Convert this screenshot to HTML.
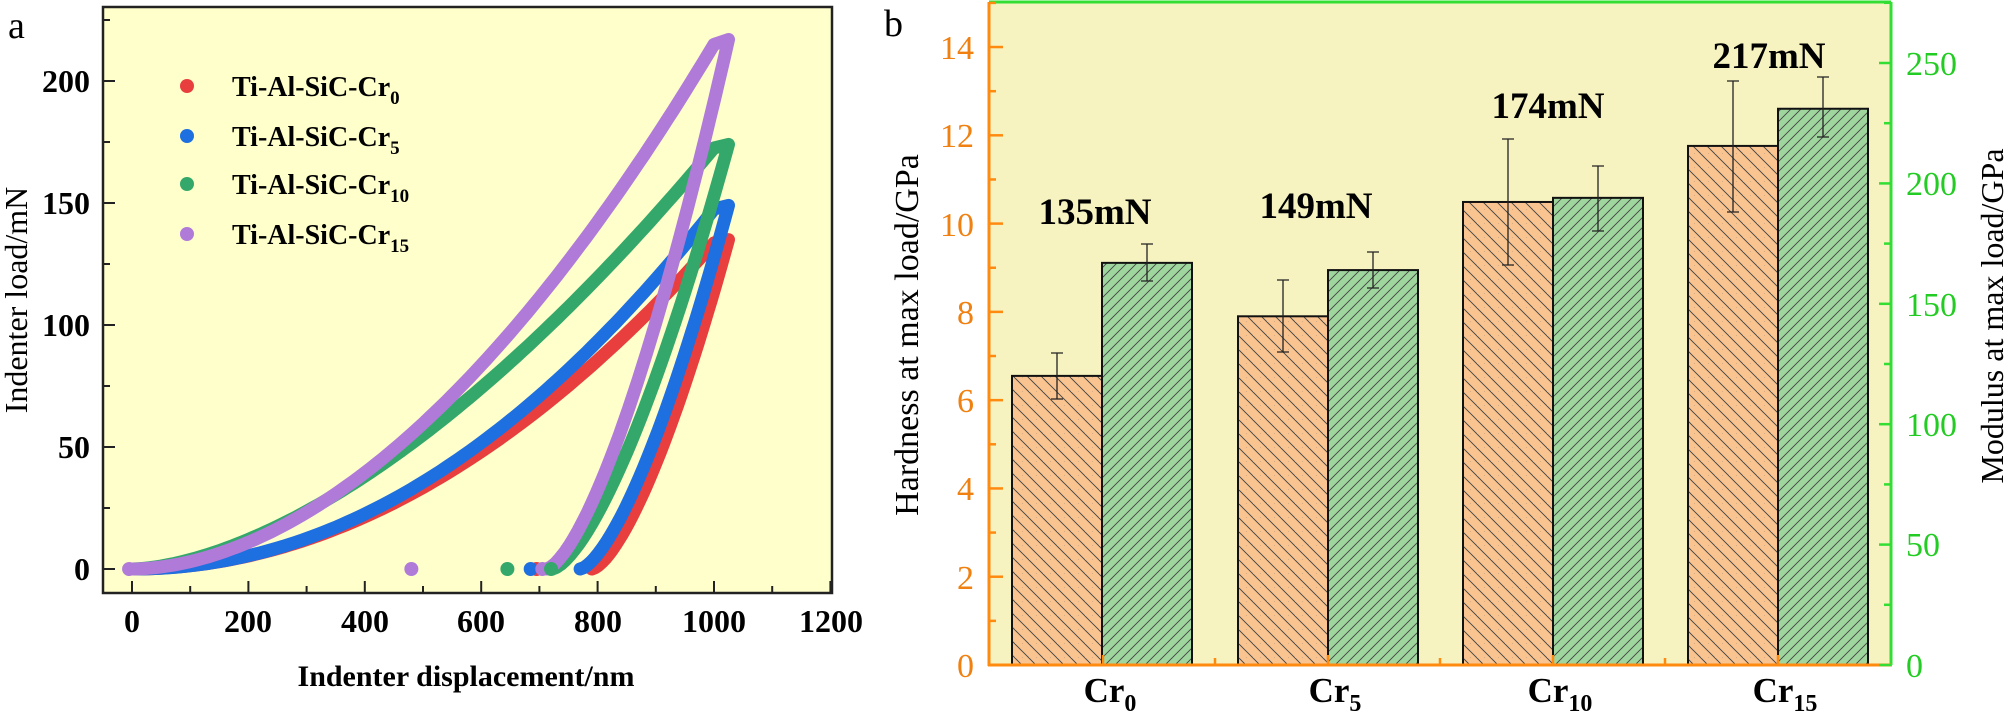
<!DOCTYPE html>
<html><head><meta charset="utf-8"><style>
html,body{margin:0;padding:0;background:#fff;}
svg{display:block;}
svg text{font-family:"Liberation Serif","Times New Roman","DejaVu Serif",serif;}
</style></head><body>
<svg id="s" width="2008" height="721" viewBox="0 0 2008 721" xmlns="http://www.w3.org/2000/svg" font-family="Liberation Serif, Times New Roman, serif">
<defs>
<pattern id="ho" patternUnits="userSpaceOnUse" width="14" height="14">
<rect width="14" height="14" fill="#f9c490"/>
<path d="M-7,0 L7,14 M0,-7 L14,7 M7,0 L21,14 M-7,7 L7,21" stroke="#444" stroke-width="0.9"/>
</pattern>
<pattern id="hg" patternUnits="userSpaceOnUse" width="10" height="10">
<rect width="10" height="10" fill="#9fd69e"/>
<path d="M0,10 L10,0 M-5,5 L5,-5 M5,15 L15,5" stroke="#444" stroke-width="0.9"/>
</pattern>
</defs>

<!-- ===== Panel a ===== -->
<rect x="103" y="7" width="729" height="586" fill="#ffffcc" stroke="#222" stroke-width="2.5"/>
<g id="curves" fill="none" stroke-width="13" stroke-linecap="round" stroke-linejoin="round"></g>
<g id="dots"></g>
<g id="ticksA" stroke="#222" stroke-width="2"></g>
<g font-size="32" font-weight="bold" text-anchor="end">
<text x="90" y="580">0</text>
<text x="90" y="458">50</text>
<text x="90" y="336">100</text>
<text x="90" y="214">150</text>
<text x="90" y="92">200</text>
</g>
<g font-size="32" font-weight="bold" text-anchor="middle">
<text x="132" y="632">0</text>
<text x="248" y="632">200</text>
<text x="365" y="632">400</text>
<text x="481" y="632">600</text>
<text x="598" y="632">800</text>
<text x="714" y="632">1000</text>
<text x="831" y="632">1200</text>
</g>
<text x="466" y="686" font-size="30" font-weight="bold" text-anchor="middle">Indenter displacement/nm</text>
<text transform="translate(27,300) rotate(-90)" font-size="32" text-anchor="middle">Indenter load/mN</text>
<text x="8" y="38" font-size="38">a</text>
<g font-size="28" font-weight="bold">
<circle cx="187" cy="86" r="7" fill="#e83e3e"/><text x="232" y="96">Ti-Al-SiC-Cr<tspan font-size="19" dy="8">0</tspan></text>
<circle cx="187" cy="136" r="7" fill="#1e6fe0"/><text x="232" y="146">Ti-Al-SiC-Cr<tspan font-size="19" dy="8">5</tspan></text>
<circle cx="187" cy="184" r="7" fill="#34a86a"/><text x="232" y="194">Ti-Al-SiC-Cr<tspan font-size="19" dy="8">10</tspan></text>
<circle cx="187" cy="234" r="7" fill="#b07ad9"/><text x="232" y="244">Ti-Al-SiC-Cr<tspan font-size="19" dy="8">15</tspan></text>
</g>

<!-- ===== Panel b ===== -->
<rect x="989" y="2" width="902" height="663" fill="#f6f3c0"/>
<line x1="989" y1="2" x2="1891" y2="2" stroke="#33dd33" stroke-width="3"/>
<line x1="1891" y1="2" x2="1891" y2="665" stroke="#33dd33" stroke-width="3"/>
<g id="bars"></g>
<line x1="989" y1="2" x2="989" y2="666" stroke="#ff8a10" stroke-width="3"/>
<line x1="988" y1="665" x2="1892" y2="665" stroke="#ff8a10" stroke-width="3"/>
<g id="ticksB"></g>
<g font-size="34" fill="#f08010" text-anchor="end">
<text x="974" y="677">0</text><text x="974" y="589">2</text><text x="974" y="500">4</text>
<text x="974" y="412">6</text><text x="974" y="324">8</text><text x="974" y="236">10</text>
<text x="974" y="147">12</text><text x="974" y="59">14</text>
</g>
<g font-size="34" fill="#22cc22" text-anchor="start">
<text x="1906" y="677">0</text><text x="1906" y="556">50</text><text x="1906" y="436">100</text>
<text x="1906" y="316">150</text><text x="1906" y="195">200</text><text x="1906" y="75">250</text>
</g>
<text transform="translate(918,335) rotate(-90)" font-size="34" text-anchor="middle">Hardness at max load/GPa</text>
<text transform="translate(2003,316) rotate(-90)" font-size="32" text-anchor="middle">Modulus at max load/GPa</text>
<text x="884" y="36" font-size="38">b</text>
<g font-size="37" font-weight="bold" text-anchor="middle">
<text x="1095" y="224">135mN</text>
<text x="1316" y="218">149mN</text>
<text x="1548" y="118">174mN</text>
<text x="1769" y="68">217mN</text>
</g>
<g font-size="35" font-weight="bold" text-anchor="middle">
<text x="1110" y="702">Cr<tspan font-size="24" dy="9">0</tspan></text>
<text x="1335" y="702">Cr<tspan font-size="24" dy="9">5</tspan></text>
<text x="1560" y="702">Cr<tspan font-size="24" dy="9">10</tspan></text>
<text x="1785" y="702">Cr<tspan font-size="24" dy="9">15</tspan></text>
</g>
</svg>
<script>
(function(){
var NS="http://www.w3.org/2000/svg";
function el(p,t,a){var e=document.createElementNS(NS,t);for(var k in a)e.setAttribute(k,a[k]);p.appendChild(e);return e;}
var X=function(h){return 132+0.582*h;}, Y=function(P){return 569-2.44*P;};
var series=[["#e83e3e",135,2.0,790],["#1e6fe0",149,2.05,770],["#34a86a",174,1.65,722],["#b07ad9",217,1.85,712]];
var g=document.getElementById("curves");
series.forEach(function(s){
 var c=s[0],Pm=s[1],m=s[2],hf=s[3],pts=[],h;
 for(h=0;h<=1005;h+=10)pts.push([h,Pm*Math.pow(h/1005,m)]);
 pts.push([1025,Pm]);
 for(var i=0;i<=40;i++){h=1025-(1025-hf)*i/40;pts.push([h,Pm*Math.pow((h-hf)/(1025-hf),1.5)]);}
 el(g,"polyline",{points:pts.map(function(p){return X(p[0]).toFixed(1)+","+Y(p[1]).toFixed(1);}).join(" "),stroke:c});
});
var d=document.getElementById("dots");
[[695,"#e83e3e"],[685,"#1e6fe0"],[645,"#34a86a"],[480,"#b07ad9"],[705,"#b07ad9"],[720,"#34a86a"],[-5,"#b07ad9"]].forEach(function(q){el(d,"circle",{cx:X(q[0]),cy:Y(0),r:7,fill:q[1]});});
var t=document.getElementById("ticksA");
for(var h=0;h<=1200;h+=100){var L=h%200==0?12:7;el(t,"line",{x1:X(h),y1:593,x2:X(h),y2:593-L});}
for(var P=0;P<=225;P+=25){var L2=P%50==0?12:7;el(t,"line",{x1:103,y1:Y(P),x2:103+L2,y2:Y(P)});}
var tb=document.getElementById("ticksB");
for(var v=0;v<=15;v++){var y=665-44.14*v;el(tb,"line",{x1:989,y1:y,x2:989+(v%2==0?14:7),y2:y,stroke:"#ff8a10","stroke-width":2.5});}
for(var v2=0;v2<=275;v2+=25){var y2=665-2.408*v2;el(tb,"line",{x1:1891,y1:y2,x2:1891-(v2%50==0?12:7),y2:y2,stroke:"#33dd33","stroke-width":2.5});}
[1103,1328,1553,1778].forEach(function(x){el(tb,"line",{x1:x,y1:665,x2:x,y2:655,stroke:"#ff8a10","stroke-width":2.5});});
[1215,1440,1665].forEach(function(x){el(tb,"line",{x1:x,y1:665,x2:x,y2:658,stroke:"#ff8a10","stroke-width":2.5});});
var b=document.getElementById("bars");
var data=[[1012,6.55,353,399,167,244,281],[1238,7.9,280,352,164,252,288],[1463,10.49,139,265,194,166,231],[1688,11.76,81,212,231,77,137]];
data.forEach(function(r){
 var x=r[0],hy=665-44.14*r[1],gy=665-2.408*r[4];
 el(b,"rect",{x:x,y:hy,width:90,height:665-hy,fill:"url(#ho)",stroke:"#111","stroke-width":2});
 el(b,"rect",{x:x+90,y:gy,width:90,height:665-gy,fill:"url(#hg)",stroke:"#111","stroke-width":2});
 [[x+45,r[2],r[3]],[x+135,r[5],r[6]]].forEach(function(e){
  el(b,"path",{d:"M"+e[0]+","+e[1]+"V"+e[2]+"M"+(e[0]-6)+","+e[1]+"h12M"+(e[0]-6)+","+e[2]+"h12",stroke:"#222","stroke-width":1.3,fill:"none"});
 });
});
})();
</script>
</body></html>
